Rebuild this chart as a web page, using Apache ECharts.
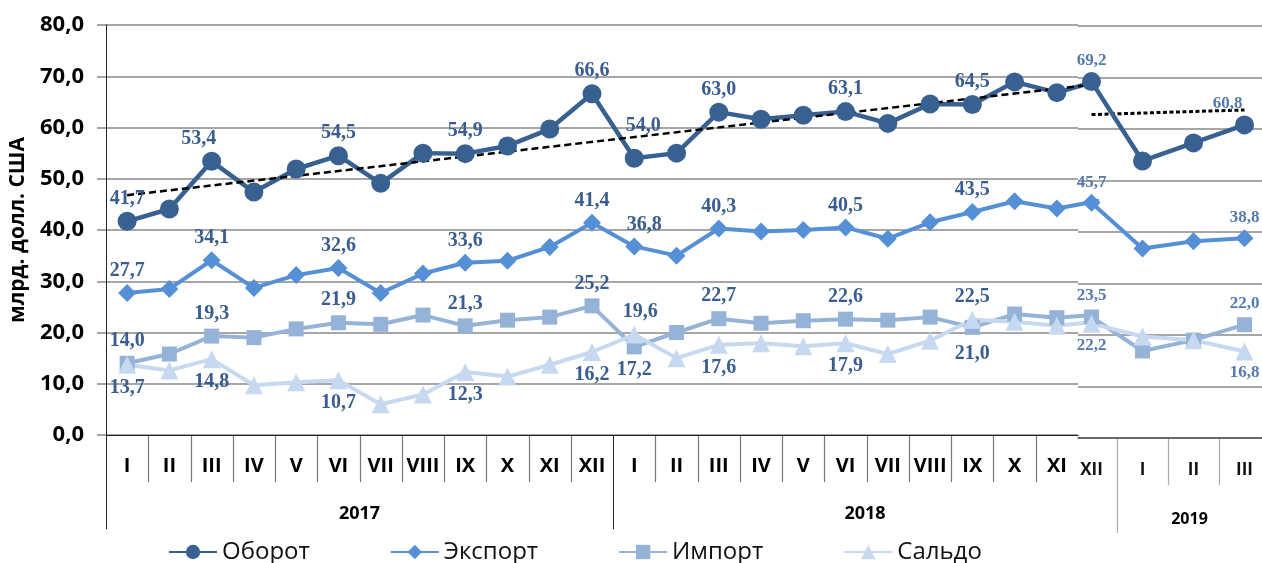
<!DOCTYPE html>
<html><head><meta charset="utf-8">
<script src="https://cdn.jsdelivr.net/npm/echarts@6/dist/echarts.min.js"></script>
<style>html,body{margin:0;padding:0;background:#fff}#c{width:1262px;height:563px}</style>
</head><body><div id="c"></div>
<script>
// ---------- DATA ----------
const months = ['I','II','III','IV','V','VI','VII','VIII','IX','X','XI','XII',
                'I','II','III','IV','V','VI','VII','VIII','IX','X','XI','XII',
                'I','II','III'];
const years = ['2017','2018','2019'];
const yMin = 0, yMax = 80, yStep = 10;
const oborot  = [41.7,44.1,53.4,47.4,51.9,54.5,49.1,55.0,54.9,56.4,59.7,66.6,
                 54.0,55.0,63.0,61.6,62.4,63.1,60.8,64.6,64.5,68.9,66.8,69.2,
                 53.8,57.3,60.8];
const eksport = [27.7,28.5,34.1,28.7,31.2,32.6,27.7,31.5,33.6,34.0,36.7,41.4,
                 36.8,35.0,40.3,39.7,40.0,40.5,38.3,41.5,43.5,45.6,44.2,45.7,
                 36.8,38.2,38.8];
const importV = [14.0,15.8,19.3,19.0,20.7,21.9,21.6,23.4,21.3,22.4,23.0,25.2,
                 17.2,20.0,22.7,21.8,22.3,22.6,22.4,23.0,21.0,23.6,22.9,23.5,
                 16.9,19.0,22.0];
const saldo   = [13.7,12.6,14.8,9.7,10.3,10.7,6.0,7.9,12.3,11.4,13.7,16.2,
                 19.6,15.0,17.6,17.9,17.3,17.9,15.8,18.4,22.5,22.1,21.3,22.2,
                 19.7,19.0,16.8];
// linear trend of turnover, endpoints
const trend2017_2018 = [46.8, 68.5];   // at 2017 I and 2018 XII
const trend2019      = [62.8, 63.7];   // at 2018 XII and 2019 III
const labelIdx = [0,2,5,8,11,12,14,17,20,23,26];

// ---------- STYLE ----------
const SPLIT = 23; // index where the right (pasted) panel starts: 2018 XII
const C = {ob:'#386191', ex:'#5590d6', im:'#95b3d7', sa:'#c6d9f1'};
const LBL_L = '#3a5d8f', LBL_R = '#5479ab';
const seriesDef = [
  {name:'Оборот',  vals:oborot,  color:C.ob, symbol:'circle',  size:19, width:4.5,
   pos:'top', dist:3, special:{2:{offset:[-13,0]},12:{offset:[9,-10]},26:{offset:[-17,0]}}},
  {name:'Экспорт', vals:eksport, color:C.ex, symbol:'diamond', size:18, width:4,
   pos:'top', dist:3, special:{12:{offset:[10,0]}}},
  {name:'Импорт',  vals:importV, color:C.im, symbol:'rect',    size:15, width:4,
   pos:'top', dist:5, special:{12:{position:'bottom'},20:{position:'bottom',offset:[0,4]}}},
  {name:'Сальдо',  vals:saldo,   color:C.sa, symbol:'triangle',size:18, width:4,
   pos:'bottom', dist:4, special:{12:{position:'top',offset:[6,0]},20:{position:'top'}}}
];
const fmt = v => v.toFixed(1).replace('.', ',');

function buildData(def, from, to, right) {
  const out = [];
  for (let i = from; i < to; i++) {
    const item = {value: def.vals[i]};
    if (!right && i === SPLIT) { item.symbol = 'none'; item.label = {show:false}; }
    else if (labelIdx.indexOf(i) >= 0) {
      const sp = def.special[i] || {};
      item.label = {show:true, position: sp.position || def.pos, distance: def.dist,
        offset: sp.offset || [0,0], formatter: fmt(def.vals[i]),
        color: right ? LBL_R : LBL_L,
        fontFamily:'"Liberation Serif", "Times New Roman", serif', fontWeight:'bold',
        fontSize: right ? 17 : 20};
    }
    out.push(item);
  }
  return out;
}

const series = [];
seriesDef.forEach(d => series.push({
  name:d.name, type:'line', xAxisIndex:1, yAxisIndex:1, data:buildData(d,0,SPLIT+1,false),
  symbol:d.symbol, symbolSize:d.size, showAllSymbol:true, color:d.color,
  lineStyle:{color:d.color,width:d.width}, itemStyle:{color:d.color},
  label:{show:false}, animation:false, z:2
}));
// trend lines
const tl = new Array(SPLIT+1).fill(null); tl[0] = trend2017_2018[0]; tl[SPLIT] = trend2017_2018[1];
series.push({name:'trendA', type:'line', xAxisIndex:1, yAxisIndex:1, data:tl, connectNulls:true,
  symbol:'none', lineStyle:{color:'#000', width:2.5, type:[7,4]}, animation:false, z:2, silent:true});
const tr = [trend2019[0], null, null, trend2019[1]];
series.push({name:'trendB', type:'line', xAxisIndex:2, yAxisIndex:2, data:tr, connectNulls:true,
  symbol:'none', lineStyle:{color:'#000', width:3, type:[4,2.5]}, animation:false, z:2, silent:true});
seriesDef.forEach(d => series.push({
  name:d.name, type:'line', xAxisIndex:2, yAxisIndex:2, data:buildData(d,SPLIT,months.length,true),
  symbol:d.symbol, symbolSize:d.size, showAllSymbol:true, color:d.color,
  lineStyle:{color:d.color,width:d.width}, itemStyle:{color:d.color},
  label:{show:false}, animation:false, z:2
}));

const leftW = 972, cat = leftW / SPLIT;
const hidden = {show:false};
const option = {
  backgroundColor:'#fff',
  animation:false,
  grid:[
    {left:106, top:25, width:leftW, height:410, outerBoundsMode:'none'},
    {left:106, top:25, width:cat*(SPLIT+1), height:410, outerBoundsMode:'none'},
    {left:1066, top:26, width:204, height:412, outerBoundsMode:'none'},
    {left:1078, top:26, width:184, height:412, outerBoundsMode:'none'}
  ],
  xAxis:[
    {gridIndex:0, type:'category', data:months.slice(0,SPLIT), boundaryGap:true,
     axisLine:{show:true, onZero:false, lineStyle:{color:'#222', width:1}}, axisTick:hidden,
     axisLabel:{interval:0, margin:21, color:'#000', fontFamily:'"Open Sans"', fontWeight:'bold', fontSize:20},
     splitLine:hidden},
    {gridIndex:1, type:'category', data:months.slice(0,SPLIT+1), boundaryGap:true, show:false},
    {gridIndex:2, type:'category', data:months.slice(SPLIT), boundaryGap:true,
     axisLine:hidden, axisTick:hidden,
     axisLabel:{interval:0, margin:24, color:'#111', fontFamily:'"Open Sans"', fontWeight:'bold', fontSize:17},
     splitLine:hidden},
    {gridIndex:3, type:'value', min:0, max:1, axisLine:{show:true, onZero:false, lineStyle:{color:'#555', width:1.5}},
     axisTick:hidden, axisLabel:hidden, splitLine:hidden}
  ],
  yAxis:[
    {gridIndex:0, type:'value', min:yMin, max:yMax, interval:yStep,
     name:'млрд. долл. США', nameLocation:'middle', nameRotate:90, nameGap:77,
     nameTextStyle:{color:'#000', fontFamily:'"Open Sans"', fontWeight:'bold', fontSize:21},
     axisLine:{show:true, lineStyle:{color:'#222', width:1}},
     axisTick:{show:true, length:9, lineStyle:{color:'#a6a6a6', width:2}},
     axisLabel:{formatter: v => fmt(v), margin:22, color:'#000', fontFamily:'"Open Sans"', fontWeight:'bold', fontSize:22},
     splitLine:{show:true, lineStyle:{color:'#a6a6a6', width:2}}},
    {gridIndex:1, type:'value', min:yMin, max:yMax, interval:yStep, show:false},
    {gridIndex:2, type:'value', min:yMin, max:yMax, interval:yStep, show:false},
    {gridIndex:3, type:'value', min:yMin, max:yMax, interval:yStep,
     axisLine:hidden, axisTick:hidden, axisLabel:hidden,
     splitLine:{show:true, lineStyle:{color:'#a6a6a6', width:2}}}
  ],
  legend:{
    data:['Оборот','Экспорт','Импорт','Сальдо'], left:163, top:535,
    itemWidth:48, itemHeight:18, itemGap:80,
    textStyle:{color:'#111', fontFamily:'"Open Sans"', fontSize:24}
  },
  series: series
};

const chart = echarts.init(document.getElementById('c'), null, {renderer:'canvas'});
chart.setOption(option);

// ---------- bottom table (separators and years) ----------
const px = (ax, i) => chart.convertToPixel({xAxisIndex:ax}, i);
const w0 = px(0,1) - px(0,0), w2 = px(2,1) - px(2,0);
const y0 = chart.convertToPixel({yAxisIndex:0}, 0);
const y2 = chart.convertToPixel({yAxisIndex:2}, 0);
const els = [];
const line = (x, ya, yb, color, w) => els.push({type:'line', silent:true,
  shape:{x1:x, y1:ya, x2:x, y2:yb}, style:{stroke:color, lineWidth:w}});
for (let i = 0; i < SPLIT; i++) {
  const x = Math.round(px(0,i) - w0/2) + 0.5;
  if (i === 0 || i === 12) line(x, y0, y0 + 94, '#222', 1);
  else line(x, y0, y0 + 47, '#777', 1.2);
}
for (let i = 1; i < months.length - SPLIT; i++) {
  const x = Math.round(px(2,i) - w2/2) + 0.5;
  line(x, y2, i === 1 ? y2 + 95 : y2 + 47, '#aaa', 1.2);
}
const b2017 = px(0,0) - w0/2, b2018 = px(0,12) - w0/2, b2019 = px(2,1) - w2/2;
const yearText = (t, x, y, size) => els.push({type:'text', silent:true, x:x, y:y,
  style:{text:t, align:'center', verticalAlign:'middle', fill:'#000',
  font:'bold ' + size + 'px "Open Sans"'}});
yearText(years[0], (b2017 + b2018)/2, y0 + 79, 18);
yearText(years[1], (b2018 + b2019)/2, y0 + 79, 18);
yearText(years[2], (b2019 + 1262)/2, y2 + 81, 16);
chart.setOption({graphic: els});
</script>
</body></html>
